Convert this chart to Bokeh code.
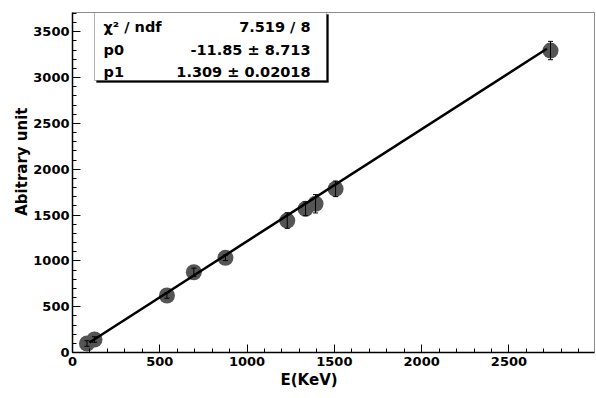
from bokeh.plotting import figure
from bokeh.models import Range1d, FixedTicker, BoxAnnotation, Label, ColumnDataSource, Title
from bokeh.embed import file_html
from bokeh.resources import INLINE

# ---- data ----
energy = [83, 126, 541, 695, 876, 1230, 1335, 1392, 1507, 2738]
signal = [98, 142, 622, 876, 1033, 1440, 1568, 1623, 1786, 3295]
error = [30, 30, 30, 45, 30, 85, 75, 100, 85, 100]
fit_x = [97, 2717]
fit_y = [109, 3314]
stat_names = ["χ² / ndf", "p0", "p1"]
stat_values = ["7.519 / 8", "-11.85 ± 8.713", "1.309 ± 0.02018"]
x_major = [0, 500, 1000, 1500, 2000, 2500]
y_major = [0, 500, 1000, 1500, 2000, 2500, 3000, 3500]
x_title = "E(KeV)"
y_title = "Abitrary unit"

X_END = 2990
Y_END = 3710

# ---- layout constants (figure pixels) ----
W, H = 596, 398
FL, FT = 72, 12         # frame left / top inside figure
FW, FH = 522, 340       # frame size

def dx(px):  # figure pixel x -> data x
    return (px - FL) / FW * X_END

def dy(py):  # figure pixel y -> data y
    return (FT + FH - py) / FH * Y_END

FONT = "DejaVu Sans"

p = figure(width=W, height=H, output_backend="svg", toolbar_location=None,
           x_range=Range1d(0, X_END), y_range=Range1d(0, Y_END),
           min_border_left=FL, min_border_right=W - FL - FW, min_border_top=FT,
           min_border_bottom=H - FT - FH)
p.background_fill_color = "white"
p.border_fill_color = "white"
p.outline_line_color = "#8c8c8c"
p.outline_line_width = 1
p.xgrid.visible = False
p.ygrid.visible = False

for ax, major, minor_end in ((p.xaxis[0], x_major, 2900), (p.yaxis[0], y_major, 3700)):
    ax.ticker = FixedTicker(ticks=major, minor_ticks=list(range(0, minor_end + 1, 100)))
    ax.axis_line_color = "black"
    ax.axis_line_width = 1.5
    ax.major_tick_in = 8
    ax.major_tick_out = 0
    ax.minor_tick_in = 4
    ax.minor_tick_out = 0
    ax.major_tick_line_color = "black"
    ax.minor_tick_line_color = "black"
    ax.major_label_text_font = FONT
    ax.major_label_text_font_style = "bold"
    ax.major_label_text_font_size = "13px"
    ax.major_label_text_color = "black"

p.xaxis.major_label_standoff = 4
p.yaxis.major_label_standoff = 3

# axis titles placed as ROOT does (not centred on the axis)
p.add_layout(Title(text=x_title, align="left", offset=208, text_font=FONT,
                   text_font_style="bold", text_font_size="15px", text_color="black",
                   standoff=0), "below")
p.add_layout(Title(text=y_title, align="right", offset=95, text_font=FONT,
                   text_font_style="bold", text_font_size="15px", text_color="black",
                   standoff=0), "left")

src = ColumnDataSource(dict(
    x=energy, y=signal,
    lo=[s - e for s, e in zip(signal, error)],
    hi=[s + e for s, e in zip(signal, error)],
))

p.scatter("x", "y", source=src, size=16, fill_color="#555555", line_color=None)
p.segment("x", "lo", "x", "hi", source=src, line_color="black", line_width=1)
p.scatter("x", "lo", source=src, marker="dash", size=5, line_color="black", line_width=1)
p.scatter("x", "hi", source=src, marker="dash", size=5, line_color="black", line_width=1)
p.line(fit_x, fit_y, line_color="black", line_width=2.5)

# ---- stats box ----
bl, br, bt, bb = 94, 326, 12, 80  # figure pixels
p.add_layout(BoxAnnotation(left=dx(bl + 2), right=dx(br + 2), top=dy(bt + 2), bottom=dy(bb + 2),
                           fill_color="black", fill_alpha=1, line_color="black", level="overlay"))
p.add_layout(BoxAnnotation(left=dx(bl), right=dx(br), top=dy(bt), bottom=dy(bb),
                           fill_color="white", fill_alpha=1, line_color="black",
                           line_width=1, level="overlay"))
rows = [26, 49, 71]
for name, val, ry in zip(stat_names, stat_values, rows):
    p.add_layout(Label(x=dx(103), y=dy(ry), text=name, text_align="left",
                       text_baseline="middle", text_font=FONT, text_font_style="bold",
                       text_font_size="14.5px", text_color="black", level="overlay"))
    p.add_layout(Label(x=dx(310), y=dy(ry), text=val, text_align="right",
                       text_baseline="middle", text_font=FONT, text_font_style="bold",
                       text_font_size="14.5px", text_color="black", level="overlay"))

open("out.html", "w").write(file_html(p, INLINE))
